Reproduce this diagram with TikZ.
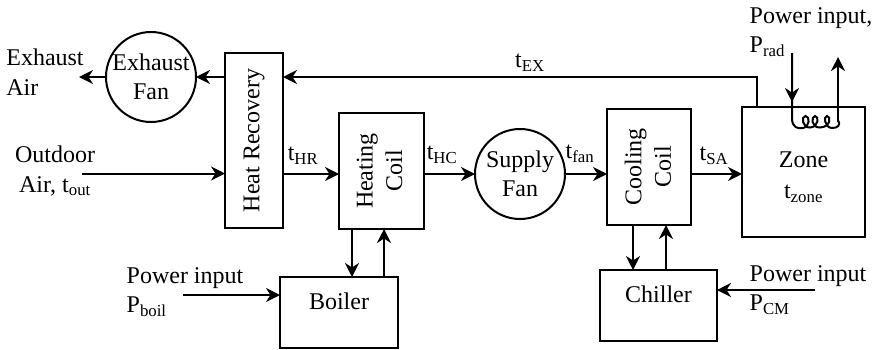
\documentclass[tikz,border=0pt]{standalone}
\usepackage{fontspec}
\setmainfont{Liberation Serif}
\usepackage{xcolor}
\usepackage{tikz}
\usetikzlibrary{positioning, arrows.meta, calc}
\tikzset{
  block/.style={
    draw=black, line width=2pt, outer sep=0pt, inner sep=0pt,
    align=center, font=\plantfont
  },
  fan/.style={
    block, circle, minimum size=90pt
  },
  caption/.style={
    inner sep=0pt, outer sep=0pt, align=center, font=\plantfont
  },
  flow/.style={
    -{Stealth[length=14pt,width=14pt,inset=4.5pt]},
    line width=2pt, color=black
  }
}
\newcommand{\plantfont}{\fontsize{24}{29.5}\selectfont}

\begin{document}
\begin{tikzpicture}[x=1pt, y=-1pt]
  \useasboundingbox (0,0) rectangle (874,349);

  % air side
  \node[block, minimum width=58pt, minimum height=175pt] (recovery) at (254,140.5) {};
  \node[fan, left=29pt of recovery.west, yshift=63.5pt] (exhaust) {Exhaust\\Fan};
  \node[block, minimum width=85pt, minimum height=116pt, right=56pt of recovery.east, yshift=-30.5pt] (heating) {};
  \node[fan, right=51pt of heating.east, yshift=-3pt] (supply) {Supply\\Fan};
  \node[block, minimum width=84pt, minimum height=116pt, right=42pt of supply.east, yshift=7pt] (cooling) {};
  \node[block, minimum width=123pt, minimum height=130pt, right=51pt of cooling.east, yshift=-5pt] (zone) {};

  % plant side
  \node[block, minimum width=118pt, minimum height=71pt, below=48pt of heating.south, xshift=-42.5pt] (boiler) {};
  \node[block, minimum width=117pt, minimum height=71pt, below=45pt of cooling.south, xshift=9.5pt] (chiller) {};

  % text inside the boxes
  \node[caption, rotate=90] (recoverytext) at (recovery) {Heat Recovery};
  \node[caption, rotate=90, yshift=2pt] (heatingtext) at (heating) {Heating\\Coil};
  \node[caption, rotate=90, yshift=1pt] (coolingtext) at (cooling) {Cooling\\Coil};
  \node[caption, yshift=11pt] (boilertext) at (boiler) {Boiler};
  \node[caption, yshift=11pt] (chillertext) at (chiller) {Chiller};
  \node[caption, yshift=12pt] (zonetext) at (zone) {Zone};
  \node[caption, below=17pt of zonetext] (zonetemp) {t\textsubscript{zone}};

  % free labels
  \node[caption, align=left] (exhaustair) at (45,72) {Exhaust\\Air};
  \node[caption] (outdoor) at (55,171) {Outdoor\\Air, t\textsubscript{out}};
  \node[caption, align=left] (boilerpower) at (185,292) {Power input\\P\textsubscript{boil}\hspace{68pt}};
  \node[caption, align=left] (chillerpower) at (808,290) {Power input\\P\textsubscript{CM}\hspace{76pt}};
  \node[caption, align=left] (radpower) at (811,32) {Power input,\\P\textsubscript{rad}\hspace{89pt}};
  \node[caption] (thr) at (303,156) {t\textsubscript{HR}};
  \node[caption] (thc) at (442,155) {t\textsubscript{HC}};
  \node[caption] (tfan) at (580,154) {t\textsubscript{fan}};
  \node[caption] (tsa) at (714,156) {t\textsubscript{SA}};
  \node[caption] (tex) at (530,63) {t\textsubscript{EX}};

  % free ends
  \coordinate (exhaustend) at (79,77);
  \coordinate (outdoorstart) at (82,173.5);
  \coordinate (boilerstart) at (183,295);
  \coordinate (chillerstart) at (815,290);
  \coordinate (radin) at (792,53);
  \coordinate (radout) at (838,57);
  \coordinate (coilout) at (838,122);
  \coordinate (exhaustturn) at (757,77);

  % air stream
  \draw[flow] (outdoorstart) -- (recovery.west |- outdoorstart);
  \draw[flow] (recovery.east |- supply) -- (heating.west |- supply);
  \draw[flow] (heating.east |- supply) -- (supply);
  \draw[flow] (supply) -- (cooling.west |- supply);
  \draw[flow] (cooling.east |- supply) -- (zone.west |- supply);
  \draw[flow] (zone.north -| exhaustturn) -- (exhaustturn) -- (recovery.east |- exhaustturn);
  \draw[flow] (recovery.west |- exhaust) -- (exhaust);
  \draw[flow] (exhaust) -- (exhaustend);

  % coil loops
  \draw[flow] (heating.south -| 352,0) -- (boiler.north -| 352,0);
  \draw[flow] (boiler.north -| 384,0) -- (heating.south -| 384,0);
  \draw[flow] (cooling.south -| 633,0) -- (chiller.north -| 633,0);
  \draw[flow] (chiller.north -| 666,0) -- (cooling.south -| 666,0);
  \draw[flow] (boilerstart) -- (boilerstart -| boiler.west);
  \draw[flow] (chillerstart) -- (chillerstart -| chiller.east);

  % radiant panel
  \draw[flow] (radin) -- (radin |- 0,102);
  \draw[line width=2pt] (radin) -- (792,120) .. controls (793,127) and (797,129) .. (803,128)
    .. controls (810,127) and (810,116) .. (805.5,116) .. controls (801,116) and (802,128) .. (810,127.5)
    .. controls (819,127) and (819,116) .. (815,116) .. controls (811,116) and (811,128) .. (820,127.5)
    .. controls (831,127) and (831,116) .. (827,116) .. controls (823,116) and (825,128) .. (832,128)
    .. controls (838,128) and (841,125) .. (838,120);
  \draw[flow] (coilout) -- (radout);
\end{tikzpicture}
\end{document}
